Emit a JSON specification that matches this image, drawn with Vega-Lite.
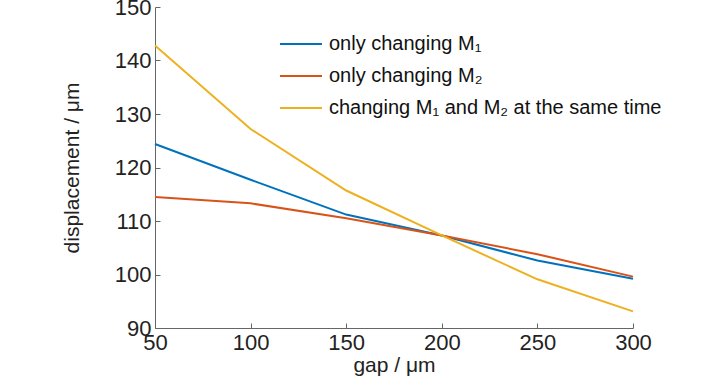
{
  "$schema": "https://vega.github.io/schema/vega-lite/v6.json",
  "width": 478,
  "height": 321,
  "autosize": {"type": "none"},
  "padding": {"left": 155, "top": 7, "right": 95, "bottom": 62},
  "background": "white",
  "config": {
    "view": {"stroke": null},
    "font": "Liberation Sans"
  },
  "data": {
    "values": [
      {"gap": 50, "displacement": 124.4, "series": "only changing M₁"},
      {"gap": 100, "displacement": 117.7, "series": "only changing M₁"},
      {"gap": 150, "displacement": 111.2, "series": "only changing M₁"},
      {"gap": 200, "displacement": 107.3, "series": "only changing M₁"},
      {"gap": 250, "displacement": 102.6, "series": "only changing M₁"},
      {"gap": 300, "displacement": 99.2, "series": "only changing M₁"},
      {"gap": 50, "displacement": 114.5, "series": "only changing M₂"},
      {"gap": 100, "displacement": 113.3, "series": "only changing M₂"},
      {"gap": 150, "displacement": 110.5, "series": "only changing M₂"},
      {"gap": 200, "displacement": 107.3, "series": "only changing M₂"},
      {"gap": 250, "displacement": 103.8, "series": "only changing M₂"},
      {"gap": 300, "displacement": 99.6, "series": "only changing M₂"},
      {"gap": 50, "displacement": 142.8, "series": "changing M₁ and M₂ at the same time"},
      {"gap": 100, "displacement": 127.2, "series": "changing M₁ and M₂ at the same time"},
      {"gap": 150, "displacement": 115.7, "series": "changing M₁ and M₂ at the same time"},
      {"gap": 200, "displacement": 107.3, "series": "changing M₁ and M₂ at the same time"},
      {"gap": 250, "displacement": 99.1, "series": "changing M₁ and M₂ at the same time"},
      {"gap": 300, "displacement": 93.1, "series": "changing M₁ and M₂ at the same time"}
    ]
  },
  "mark": {"type": "line", "strokeWidth": 2},
  "encoding": {
    "x": {
      "field": "gap", "type": "quantitative",
      "scale": {"domain": [50, 300], "nice": false, "zero": false},
      "axis": {
        "title": "gap / μm", "values": [50, 100, 150, 200, 250, 300],
        "grid": false, "tickSize": -5, "domainColor": "#666666", "tickColor": "#666666",
        "labelFlush": false, "labelOverlap": false,
        "labelFontSize": 22, "labelColor": "#222222", "labelPadding": 9,
        "titleFontSize": 21, "titleFontWeight": "normal", "titleColor": "#222222", "titlePadding": 1
      }
    },
    "y": {
      "field": "displacement", "type": "quantitative",
      "scale": {"domain": [90, 150], "nice": false, "zero": false},
      "axis": {
        "title": "displacement / μm", "values": [90, 100, 110, 120, 130, 140, 150],
        "grid": false, "tickSize": -5, "domainColor": "#666666", "tickColor": "#666666",
        "labelFlush": false, "labelOverlap": false,
        "labelFontSize": 22, "labelColor": "#222222", "labelPadding": 9,
        "titleFontSize": 21, "titleFontWeight": "normal", "titleColor": "#222222", "titlePadding": 32
      }
    },
    "color": {
      "field": "series", "type": "nominal",
      "scale": {
        "domain": ["only changing M₁", "only changing M₂", "changing M₁ and M₂ at the same time"],
        "range": ["#0072BD", "#D95319", "#EDB120"]
      },
      "legend": {
        "title": null, "orient": "none", "legendX": 124, "legendY": 15,
        "symbolType": "stroke", "symbolSize": 1764, "symbolStrokeWidth": 2,
        "labelFontSize": 20, "labelColor": "#111111", "rowPadding": 0, "labelOffset": 6,
        "labelLimit": 400
      }
    }
  }
}
